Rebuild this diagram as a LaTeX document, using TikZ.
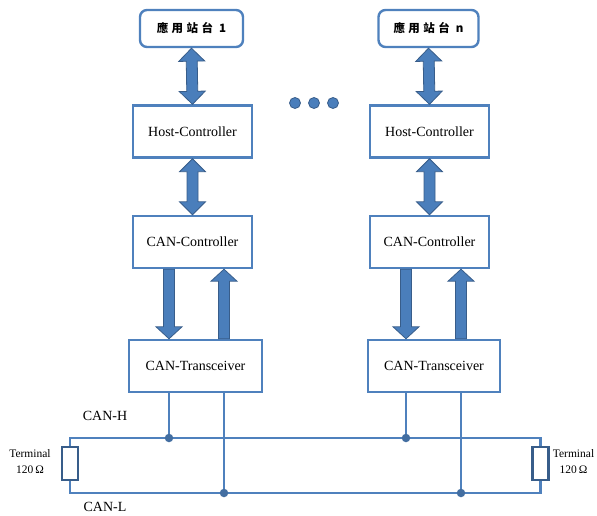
\documentclass[tikz,border=0pt]{standalone}
\usepackage{fontspec}
\setmainfont{Liberation Serif}
\newfontfamily\cjkfont[LetterSpace=30]{Noto Sans CJK TC}
\usepackage{xcolor}
\usepackage{tikz}
\usetikzlibrary{positioning, calc}
\definecolor{BoxBlue}{RGB}{79,129,189}
\definecolor{ArrowBlue}{RGB}{74,126,187}
\definecolor{EdgeBlue}{RGB}{56,93,138}
\tikzset{
  unitbox/.style={draw=BoxBlue, line width=2.4pt, fill=white, font=\fontsize{14}{15}\selectfont,
    minimum width=119pt, minimum height=52pt, inner sep=0pt},
  stationbox/.style={unitbox, rounded corners=7pt, minimum width=103pt, minimum height=37pt,
    font=\cjkfont\bfseries\fontsize{11.5}{13}\selectfont},
  bus/.style={draw=BoxBlue, line width=2.4pt},
  tapdot/.style={circle, fill=BoxBlue!85!black, inner sep=0pt, minimum size=8.5pt},
  moredot/.style={circle, fill=ArrowBlue, draw=EdgeBlue, line width=0.8pt, inner sep=0pt, minimum size=11pt},
  resistor/.style={draw=EdgeBlue, line width=2.4pt, fill=white, minimum width=16pt, minimum height=33pt, inner sep=0pt},
  termlabel/.style={font=\fontsize{11.5}{16}\selectfont, align=center},
  buslabel/.style={font=\fontsize{14}{15}\selectfont},
  blockarrow/.style={fill=ArrowBlue, draw=EdgeBlue, line width=0.8pt, line join=miter},
}
% two-headed block arrow between two points
\newcommand{\twowayarrow}[2]{%
  \coordinate (ha) at ($(#1)!13pt!(#2)$);
  \coordinate (hb) at ($(#2)!13pt!(#1)$);
  \filldraw[blockarrow] (#1) -- ($(ha)!13pt!90:(#2)$) -- ($(ha)!5.5pt!90:(#2)$)
    -- ($(hb)!5.5pt!90:(#2)$) -- ($(hb)!13pt!90:(#2)$) -- (#2)
    -- ($(hb)!13pt!-90:(#2)$) -- ($(hb)!5.5pt!-90:(#2)$)
    -- ($(ha)!5.5pt!-90:(#2)$) -- ($(ha)!13pt!-90:(#2)$) -- cycle;}
% one-headed block arrow, tip at the second point
\newcommand{\onewayarrow}[2]{%
  \coordinate (hb) at ($(#2)!12pt!(#1)$);
  \filldraw[blockarrow] ($(#1)!5.5pt!90:(#2)$) -- ($(hb)!5.5pt!90:(#2)$) -- ($(hb)!13pt!90:(#2)$)
    -- (#2) -- ($(hb)!13pt!-90:(#2)$) -- ($(hb)!5.5pt!-90:(#2)$) -- ($(#1)!5.5pt!-90:(#2)$) -- cycle;}

\begin{document}
\begin{tikzpicture}[x=1pt, y=-1pt]
  \useasboundingbox (0,0) rectangle (597,516);

  % stations
  \node[stationbox] (st1) at (191.5,28.5) {應用站台 1};
  \node[stationbox, minimum width=100pt] (stn) at (428.5,28.5) {應用站台 n};

  % controllers and transceivers
  \node[unitbox] (host1) at (192.5,131.5) {Host-Controller};
  \node[unitbox] (hostn) at (429.5,131.5) {Host-Controller};
  \node[unitbox] (canc1) at (192.5,242) {CAN-Controller};
  \node[unitbox] (cancn) at (429.5,242) {CAN-Controller};
  \node[unitbox, minimum width=133pt] (trx1) at (195.5,366) {CAN-Transceiver};
  \node[unitbox, minimum width=132pt] (trxn) at (434,366) {CAN-Transceiver};

  \foreach \i/\x in {1/295,2/314,3/333}
    \node[moredot] (more\i) at (\x,103) {};

  % bus with terminals
  \coordinate (hL) at (70,438);
  \coordinate (hR) at (540.5,438);
  \coordinate (lL) at (70,493);
  \coordinate (lR) at (540.5,493);
  \node[resistor] (rL) at (70,463.5) {};
  \node[resistor] (rR) at (540.5,463.5) {};
  \draw[bus] (rL.north) -- (hL) -- (hR) -- (rR.north);
  \draw[bus] (rL.south) -- (lL) -- (lR) -- (rR.south);

  \node[buslabel] (canh) at (105,416) {CAN-H};
  \node[buslabel] (canl) at (105,507) {CAN-L};
  \node[termlabel] (termL) at (30,462) {Terminal\\120\,Ω};
  \node[termlabel] (termR) at (573.5,462) {Terminal\\120\,Ω};

  \foreach \n in {1,n} {
    \twowayarrow{st\n.south}{host\n.north}
    \twowayarrow{host\n.south}{canc\n.north}
    \coordinate (tx\n) at ([xshift=-23.5pt]canc\n.south);
    \coordinate (rx\n) at ([xshift=31.5pt]canc\n.south);
    \coordinate (txe\n) at (tx\n |- trx\n.north);
    \coordinate (rxe\n) at (rx\n |- trx\n.north);
    \onewayarrow{tx\n}{txe\n}
    \onewayarrow{rxe\n}{rx\n}
    \draw[bus] (tx\n |- trx\n.south) -- (tx\n |- hL) node[tapdot] (th\n) {};
    \draw[bus] (rx\n |- trx\n.south) -- (rx\n |- lL) node[tapdot] (tl\n) {};
  }
\end{tikzpicture}
\end{document}
